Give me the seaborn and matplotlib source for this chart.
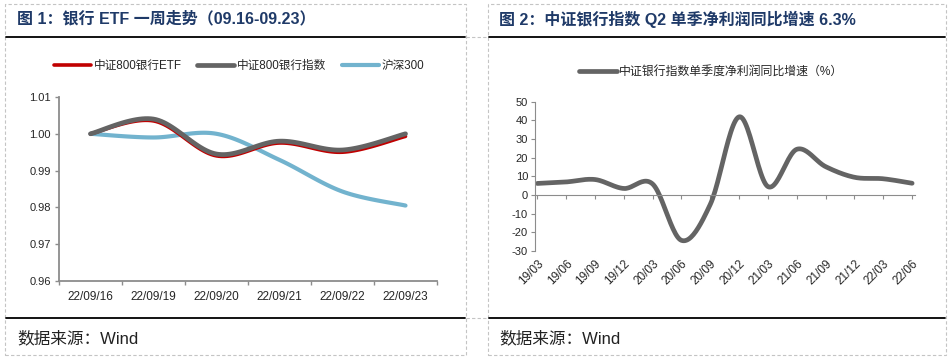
import numpy as np
import pandas as pd
import matplotlib
matplotlib.use("Agg")
import matplotlib.pyplot as plt
from matplotlib.patches import Rectangle
from matplotlib.lines import Line2D
import seaborn as sns

# ---------------- datos ----------------
fechas = ["22/09/16", "22/09/19", "22/09/20", "22/09/21", "22/09/22", "22/09/23"]
etf_800 = [1.000, 1.0035, 0.9940, 0.9975, 0.9950, 0.9993]
indice_800 = [1.000, 1.0040, 0.9945, 0.9980, 0.9956, 1.0000]
hs300 = [1.000, 0.9990, 1.0000, 0.9929, 0.9843, 0.9805]

trimestres = ["19/03", "19/06", "19/09", "19/12", "20/03", "20/06", "20/09",
              "20/12", "21/03", "21/06", "21/09", "21/12", "22/03", "22/06"]
beneficio = [6.2, 7.0, 8.3, 3.5, 5.9, -24.3, -5.0, 41.9, 4.5, 24.5, 15.2, 9.5, 8.7, 6.3]

titulo_1 = "图 1：银行 ETF 一周走势（09.16-09.23）"
titulo_2 = "图 2：中证银行指数 Q2 单季净利润同比增速 6.3%"
fuente = "数据来源：Wind"
leyenda_1 = ["中证800银行ETF", "中证800银行指数", "沪深300"]
leyenda_2 = "中证银行指数单季度净利润同比增速（%）"

ROJO = "#c00000"
GRIS = "#646464"
AZUL = "#72b3ce"
NAVY = "#1f3a68"
EJE = "#8c8c8c"


def suavizar(y, n=24):
    """Curva suavizada (Bezier tipo Excel) que pasa por los puntos dados."""
    y = np.asarray(y, float)
    x = np.arange(len(y), dtype=float)
    px = np.r_[x[0], x, x[-1]]
    py = np.r_[y[0], y, y[-1]]
    xs, ys = [], []
    t = np.linspace(0, 1, n, endpoint=False)[:, None]
    for i in range(len(y) - 1):
        p = []
        for arr in (px, py):
            p0, p1, p2, p3 = arr[i], arr[i + 1], arr[i + 2], arr[i + 3]
            c1 = p1 + (p2 - p0) / 6
            c2 = p2 - (p3 - p1) / 6
            b = ((1 - t) ** 3 * p1 + 3 * (1 - t) ** 2 * t * c1
                 + 3 * (1 - t) * t ** 2 * c2 + t ** 3 * p2)
            p.append(b.ravel())
        xs.append(p[0])
        ys.append(p[1])
    xs.append([x[-1]])
    ys.append([y[-1]])
    return pd.DataFrame({"x": np.concatenate(xs), "y": np.concatenate(ys)})


sns.set_style("white")
plt.rcParams["font.family"] = ["Liberation Sans", "Noto Sans CJK SC"]
plt.rcParams["axes.unicode_minus"] = False

fig = plt.figure(figsize=(9.53, 3.6), dpi=100)
W, H = 953, 360


def fx(px):
    return px / W


def fy(py):
    return 1 - py / H


# marcos de los paneles
for x0, x1 in [(5, 466), (488, 946)]:
    fig.add_artist(Rectangle((fx(x0), fy(355)), fx(x1 - x0), (355 - 4) / H,
                             fill=False, ec="#c4c4c4", lw=0.8, ls=(0, (3, 2))))
    for yl in (37, 318):
        fig.add_artist(Line2D([fx(x0 + 1), fx(x1 - 1)], [fy(yl), fy(yl)],
                              color="black", lw=1.3))
for yl in (37, 318):
    fig.add_artist(Line2D([fx(466), fx(488)], [fy(yl), fy(yl)],
                          color="#c4c4c4", lw=0.8, ls=(0, (3, 2))))

fig.text(fx(17), fy(19), titulo_1, fontsize=11.5, fontweight="bold", color=NAVY, va="center")
fig.text(fx(499), fy(19), titulo_2, fontsize=11.5, fontweight="bold", color=NAVY, va="center")
fig.text(fx(17), fy(338), fuente, fontsize=12, color="#222222", va="center")
fig.text(fx(499), fy(338), fuente, fontsize=12, color="#222222", va="center")

# ---------------- gráfico 1 ----------------
ax1 = fig.add_axes([fx(59), fy(281), fx(437 - 59), (281 - 97) / H])
sns.lineplot(data=suavizar(hs300), x="x", y="y", sort=False, estimator=None,
             color=AZUL, lw=3.0, ax=ax1, label=leyenda_1[2])
sns.lineplot(data=suavizar(etf_800), x="x", y="y", sort=False, estimator=None,
             color=ROJO, lw=2.6, ax=ax1, label=leyenda_1[0])
sns.lineplot(data=suavizar(indice_800), x="x", y="y", sort=False, estimator=None,
             color=GRIS, lw=3.4, ax=ax1, label=leyenda_1[1])
ax1.set_xlim(-0.5, len(fechas) - 0.5)
ax1.set_ylim(0.96, 1.01)
ax1.set_yticks(np.arange(0.96, 1.0101, 0.01))
ax1.set_yticklabels([f"{v:.2f}" for v in np.arange(0.96, 1.0101, 0.01)])
ax1.set_xticks(np.arange(-0.5, len(fechas)), minor=False)
ax1.set_xticklabels([])
ax1.set_xticks(np.arange(len(fechas)), minor=True)
ax1.set_xticklabels(fechas, minor=True)
ax1.tick_params(axis="x", which="minor", length=0, pad=7, labelsize=8.5)
ax1.tick_params(axis="x", which="major", length=3, width=1, color=EJE, direction="out", bottom=True)
ax1.tick_params(axis="y", length=3, width=1, color=EJE, direction="out", left=True, labelsize=8, pad=3)
ax1.set(xlabel=None, ylabel=None)
for s in ["top", "right"]:
    ax1.spines[s].set_visible(False)
for s in ["left", "bottom"]:
    ax1.spines[s].set_color(EJE)
    ax1.spines[s].set_linewidth(1.3)
h, l = ax1.get_legend_handles_labels()
orden = [l.index(n) for n in leyenda_1]
ax1.legend([h[i] for i in orden], [l[i] for i in orden], loc="center",
           bbox_to_anchor=(fx(239), fy(66)), bbox_transform=fig.transFigure,
           ncol=3, frameon=False, fontsize=8.4, handlelength=3.2,
           handletextpad=0.25, columnspacing=1.3)

# ---------------- gráfico 2 ----------------
ax2 = fig.add_axes([fx(535), fy(251), fx(915 - 535), (251 - 101.7) / H])
sns.lineplot(data=suavizar(beneficio), x="x", y="y", sort=False, estimator=None,
             color=GRIS, lw=3.4, ax=ax2, label=leyenda_2)
ax2.set_xlim(-0.08, len(trimestres) - 1 + 0.1)
ax2.set_ylim(-30, 50)
ax2.set_yticks(range(-30, 51, 10))
ax2.set_xticks(range(len(trimestres)))
ax2.set_xticklabels(trimestres)
ax2.spines["bottom"].set_position(("data", 0))
ax2.tick_params(axis="x", length=3, width=0.8, color=EJE, direction="out", bottom=True,
                labelsize=8.5, pad=42)
ax2.tick_params(axis="y", length=3, width=0.8, color=EJE, direction="out", left=True,
                labelsize=8, pad=2)
plt.setp(ax2.get_xticklabels(), rotation=45, ha="right", va="top", rotation_mode="anchor")
ax2.set(xlabel=None, ylabel=None)
for s in ["top", "right"]:
    ax2.spines[s].set_visible(False)
for s in ["left", "bottom"]:
    ax2.spines[s].set_color(EJE)
    ax2.spines[s].set_linewidth(0.8)
ax2.legend(loc="center", bbox_to_anchor=(fx(711), fy(72)), bbox_transform=fig.transFigure,
           frameon=False, fontsize=8.6, handlelength=3.2, handletextpad=0.15)

fig.savefig("out.png", dpi=100)
